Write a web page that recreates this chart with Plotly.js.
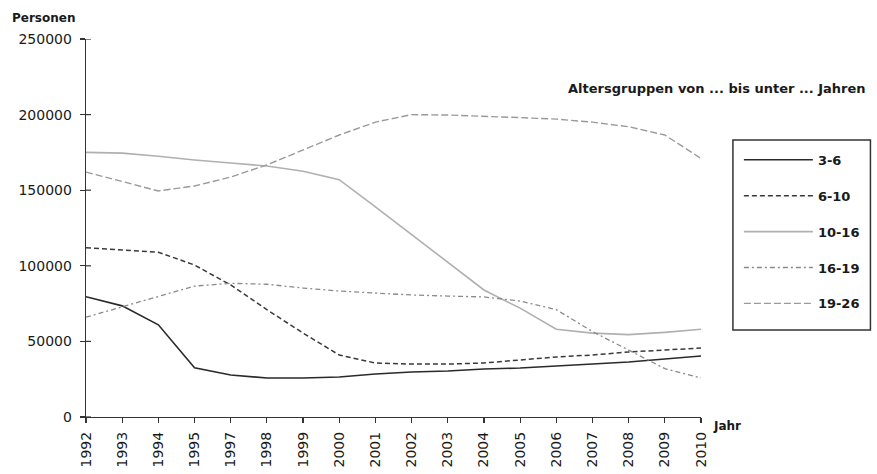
<!DOCTYPE html>
<html>
<head>
<meta charset="utf-8">
<script src="https://cdn.plot.ly/plotly-3.0.1.min.js"></script>
<style>html,body{margin:0;padding:0;background:#fff;}#chart{width:877px;height:474px;}</style>
</head>
<body>
<div id="chart"></div>
<script>
// Years as labelled on the x axis (categorical, 1996 not shown)
var years = ["1992","1993","1994","1995","1997","1998","1999","2000","2001","2002","2003","2004","2005","2006","2007","2008","2009","2010"];
var seriesNames = ["3-6","6-10","10-16","16-19","19-26"];
var v3_6   = [79500,73500,61000,32500,27800,25800,25800,26500,28400,29800,30400,31700,32400,33700,35000,36400,38400,40300];
var v6_10  = [112000,110500,109000,100500,87300,71000,55500,41000,35700,35000,35000,35700,37700,39700,41000,43000,44300,45600];
var v10_16 = [175000,174500,172500,170000,168000,166000,162500,157000,139000,120500,102500,84000,72000,58000,55500,54500,56000,58000];
var v16_19 = [66000,72800,79400,86600,88400,87800,85300,83300,82000,80700,80000,79400,76700,71000,56500,44300,32000,25800];
var v19_26 = [162000,155500,149500,152800,158700,166700,176600,186500,195000,200000,199700,199000,198000,197000,195000,192000,186500,171000];
var yTicks = [0,50000,100000,150000,200000,250000];

var values = [v3_6, v6_10, v10_16, v16_19, v19_26];
var styles = [
  {color:"#2a2a2a", width:1.6, dash:"solid"},
  {color:"#3a3a3a", width:1.5, dash:"5px,3px"},
  {color:"#b0b0b0", width:1.6, dash:"solid"},
  {color:"#8a8a8a", width:1.3, dash:"5px,3px,2px,3px"},
  {color:"#9a9a9a", width:1.4, dash:"7px,3px"}
];
var traces = seriesNames.map(function(n,i){
  return {x: years, y: values[i], name: n, type: "scatter", mode: "lines",
          line: styles[i], legendgroup: "g"+i, hoverinfo: "skip"};
});

var font = "DejaVu Sans, Liberation Sans, Arial, sans-serif";
var tickStyle = {ticklen: 5, tickcolor: "#333", tickwidth: 1.2};

// inner halves of the crossing tick marks, placed through the axes' own scales
var tickShapes = [];
years.forEach(function(yr){
  tickShapes.push({type: "line", xref: "x", yref: "paper", x0: yr, x1: yr, y0: 0, y1: 5/378,
                   line: {color: "#333", width: 1.2}});
});
yTicks.forEach(function(v){
  tickShapes.push({type: "line", xref: "paper", yref: "y", x0: 0, x1: 5/617, y0: v, y1: v,
                   line: {color: "#333", width: 1.2}});
});
tickShapes.push({type: "rect", xref: "paper", yref: "paper", x0: 1.0519, x1: 1.2755, y0: 0.2302, y1: 0.7328,
                 line: {color: "#333", width: 1.5}, fillcolor: "rgba(0,0,0,0)", layer: "below"});

var layout = {
  width: 877, height: 474,
  margin: {l: 86, r: 174, t: 39, b: 57},
  paper_bgcolor: "#fff", plot_bgcolor: "#fff",
  showlegend: true,
  xaxis: Object.assign({type: "category", range: [0, 17], showgrid: false, zeroline: false,
          showline: true, linecolor: "#333", linewidth: 1.3, ticks: "outside",
          ticklabelstandoff: 3,
          tickangle: -90, tickfont: {family: font, size: 14, color: "#1a1a1a"}}, tickStyle),
  yaxis: Object.assign({range: [0, 250000], tickvals: yTicks, ticktext: yTicks.map(String),
          showgrid: false, zeroline: false,
          showline: true, linecolor: "#333", linewidth: 1.3, ticks: "outside",
          ticklabelstandoff: 5,
          tickfont: {family: font, size: 14, color: "#1a1a1a"}}, tickStyle),
  legend: {x: 1.0616, y: 0.72, xanchor: "left", yanchor: "top",
           borderwidth: 0, bgcolor: "rgba(0,0,0,0)",
           traceorder: "grouped", tracegroupgap: 16, itemwidth: 69,
           font: {family: font, size: 13, color: "#1a1a1a", weight: "bold"}},
  shapes: tickShapes,
  annotations: [
    {text: "Personen", xref: "paper", yref: "paper", x: -0.123, y: 1.056,
     xanchor: "left", yanchor: "middle", showarrow: false,
     font: {family: font, size: 12, color: "#1a1a1a", weight: "bold"}},
    {text: "Altersgruppen von ... bis unter ... Jahren", xref: "paper", yref: "paper",
     x: 1.271, y: 0.870, xanchor: "right", yanchor: "middle", showarrow: false,
     font: {family: font, size: 13, color: "#1a1a1a", weight: "bold"}},
    {text: "Jahr", xref: "paper", yref: "paper", x: 1.016, y: -0.024,
     xanchor: "left", yanchor: "middle", showarrow: false,
     font: {family: font, size: 12, color: "#1a1a1a", weight: "bold"}}
  ]
};
Plotly.newPlot("chart", traces, layout, {staticPlot: true, displayModeBar: false});
</script>
</body>
</html>
